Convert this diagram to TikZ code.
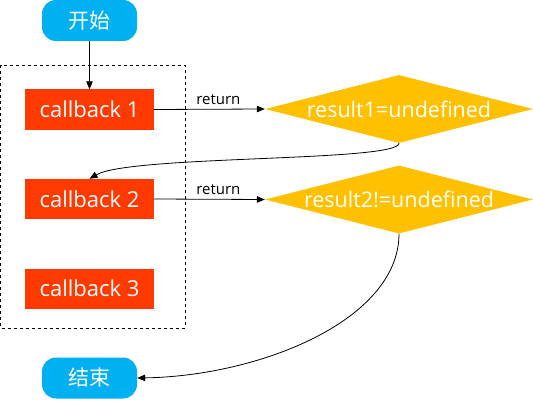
\documentclass[tikz,border=0pt]{standalone}
\usepackage{fontspec}
\setmainfont{Open Sans}
\newfontfamily\cjk{Noto Sans CJK SC}
\usetikzlibrary{shapes.geometric,arrows.meta}
\definecolor{cblue}{HTML}{00B0F0}
\definecolor{cred}{HTML}{FF3A00}
\definecolor{cyel}{HTML}{FFC000}
\begin{document}
\begin{tikzpicture}[x=1pt,y=-1pt,
  term/.style={fill=cblue,rounded corners=14pt,minimum width=95pt,minimum height=41pt,inner sep=0pt,text=white,font=\cjk\fontsize{21}{21}\selectfont},
  cbbox/.style={fill=cred,minimum width=129pt,minimum height=40pt,inner sep=0pt,text=white,font=\fontsize{22}{22}\selectfont},
  cond/.style={fill=cyel,diamond,aspect=3.9,minimum width=268pt,minimum height=68pt,inner sep=0pt,text=white,font=\fontsize{21.5}{21.5}\selectfont},
  conn/.style={line width=0.8pt,-{Triangle[length=8pt,width=6.5pt]}},
  lbl/.style={font=\fontsize{15}{15}\selectfont,inner sep=0pt}]
\useasboundingbox (0,0) rectangle (533,404);
\node[term] (start) at (89.5,20.5) {开始};
\node[cbbox] (cb1) at (89.5,109.5) {callback 1};
\node[cbbox] (cb2) at (89.5,199) {callback 2};
\node[cbbox] (cb3) at (89.5,288.5) {callback 3};
\node[term] (end) at (89.5,378) {结束};
\node[cond] (d1) at (399,109) {result1=undefined};
\node[cond] (d2) at (399,199.5) {result2!=undefined};
\draw[dashed,line width=0.8pt] (0.8,65) rectangle (185,328);
\draw[conn] (start) -- (cb1);
\draw[conn] (cb1.east) -- node[lbl,above=4pt,pos=0.58] {return} (d1.west);
\draw[conn] (cb2.east) -- node[lbl,above=4pt,pos=0.58] {return} (d2.west);
\draw[conn] (d1.south) .. controls (399,162) and (130,155) .. (cb2.north);
\draw[conn] (d2.south) .. controls (399,320) and (260,376) .. (end.east);
\end{tikzpicture}
\end{document}
